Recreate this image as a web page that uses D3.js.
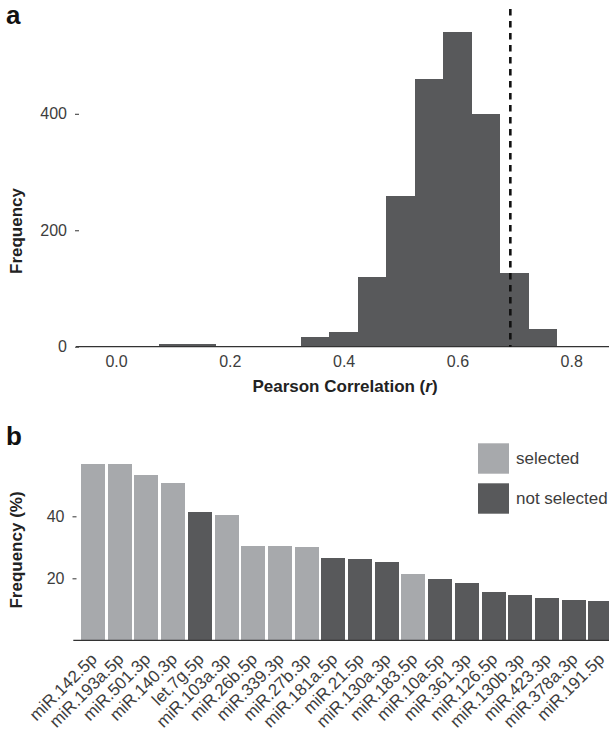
<!DOCTYPE html>
<html><head><meta charset="utf-8">
<script src="https://cdn.jsdelivr.net/npm/d3@7"></script>
<style>body{margin:0;background:#fff}svg{display:block;font-family:"Liberation Sans",Arial,sans-serif}</style>
</head><body><svg id="c" width="609" height="734"></svg>
<script>
// Panel a: histogram of Pearson correlations (binwidth 0.05)
const binStarts = [-0.025,0.025,0.075,0.125,0.175,0.225,0.275,0.325,0.375,0.425,0.475,0.525,0.575,0.625,0.675,0.725];
const binCounts = [1,1,5,5,0,2,0,17,25,120,259,460,540,400,127,30];
const binWidth = 0.05;
const cutoffR = 0.693;
const xTicksA = [0.0,0.2,0.4,0.6,0.8];
const yTicksA = [0,200,400];

// Panel b: frequency of miRNAs
const mirnas = ["miR.142.5p","miR.193a.5p","miR.501.3p","miR.140.3p","let.7g.5p","miR.103a.3p","miR.26b.5p","miR.339.3p","miR.27b.3p","miR.181a.5p","miR.21.5p","miR.130a.3p","miR.183.5p","miR.10a.5p","miR.361.3p","miR.126.5p","miR.130b.3p","miR.423.3p","miR.378a.3p","miR.191.5p"];
const freqPct = [56.9,56.9,53.3,50.7,41.4,40.4,30.4,30.4,30.1,26.6,26.2,25.3,21.4,19.8,18.5,15.6,14.6,13.6,13.0,12.7];
const status = ["selected","selected","selected","selected","not selected","selected","selected","selected","selected","not selected","not selected","not selected","selected","not selected","not selected","not selected","not selected","not selected","not selected","not selected"];
const legendKeys = ["selected","not selected"];
const yTicksB = [20,40];

const DARK = "#58595b", LIGHT = "#a7a9ac", TXT = "#3d3d3d";
const svg = d3.select("#c");

// ---------- Panel a ----------
const xA = d3.scaleLinear().domain([-0.0703, 0.8664]).range([76, 609]);
const yA = d3.scaleLinear().domain([0, 580]).range([346.7, 9]);
const gA = svg.append("g");
gA.selectAll("rect.h").data(binStarts).join("rect").attr("class","h")
  .attr("x", d => xA(d)).attr("width", d => xA(d+binWidth)-xA(d))
  .attr("y", (d,i) => yA(binCounts[i])).attr("height", (d,i) => yA(0)-yA(binCounts[i]))
  .attr("fill", DARK).attr("shape-rendering","crispEdges");
gA.append("line").attr("x1", 76).attr("x2", 609).attr("y1", yA(0)).attr("y2", yA(0))
  .attr("stroke", "#333").attr("stroke-width", 1.3);
gA.append("line").attr("x1", xA(cutoffR)).attr("x2", xA(cutoffR)).attr("y1", 9).attr("y2", yA(0))
  .attr("stroke", "#111").attr("stroke-width", 2.6).attr("stroke-dasharray", "6.5,5.5");
const axXA = d3.axisBottom(xA).tickValues(xTicksA).tickFormat(d3.format(".1f")).tickSize(0).tickPadding(9);
gA.append("g").attr("transform", `translate(0,${yA(0)})`).call(axXA)
  .call(g => g.select(".domain").remove())
  .selectAll("text").attr("font-size", 16).attr("fill", TXT).attr("font-family","Liberation Sans, Arial, sans-serif");
const axYA = d3.axisLeft(yA).tickValues(yTicksA).tickSize(4).tickPadding(8);
gA.append("g").attr("transform", "translate(79,0)").call(axYA)
  .call(g => g.select(".domain").remove())
  .call(g => g.selectAll("line").attr("stroke", "#444").attr("stroke-width", 1.1))
  .selectAll("text").attr("font-size", 16).attr("fill", TXT).attr("font-family","Liberation Sans, Arial, sans-serif");
svg.append("text").attr("x", 345).attr("y", 392).attr("text-anchor","middle")
  .attr("font-size", 17).attr("font-weight","bold").attr("fill","#222")
  .html('Pearson Correlation (<tspan font-style="italic">r</tspan>)');
svg.append("text").attr("transform","translate(22,231) rotate(-90)").attr("text-anchor","middle")
  .attr("font-size", 17).attr("font-weight","bold").attr("fill","#222").text("Frequency");
svg.append("text").attr("x", 6).attr("y", 24).attr("font-size", 26).attr("font-weight","bold").attr("fill","#111").text("a");

// ---------- Panel b ----------
const xB = d3.scaleBand().domain(mirnas).range([79.7, 613.7]).paddingInner(0.1).paddingOuter(0.05);
const yB = d3.scaleLinear().domain([0, 60]).range([640.3, 454.3]);
const color = d3.scaleOrdinal().domain(legendKeys).range([LIGHT, DARK]);
const gB = svg.append("g");
gB.selectAll("rect.b").data(mirnas).join("rect").attr("class","b")
  .attr("x", d => xB(d)).attr("width", xB.bandwidth())
  .attr("y", (d,i) => yB(freqPct[i])).attr("height", (d,i) => yB(0)-yB(freqPct[i]))
  .attr("fill", (d,i) => color(status[i])).attr("shape-rendering","crispEdges");
gB.append("line").attr("x1", 73.3).attr("x2", 609).attr("y1", yB(0)).attr("y2", yB(0))
  .attr("stroke", "#333").attr("stroke-width", 1.3);
const axYB = d3.axisLeft(yB).tickValues(yTicksB).tickSize(4).tickPadding(8);
gB.append("g").attr("transform", "translate(76.5,0)").call(axYB)
  .call(g => g.select(".domain").remove())
  .call(g => g.selectAll("line").attr("stroke", "#444").attr("stroke-width", 1.1))
  .selectAll("text").attr("font-size", 16).attr("fill", TXT).attr("font-family","Liberation Sans, Arial, sans-serif");
const axXB = d3.axisBottom(xB).tickSize(0).tickPadding(0);
gB.append("g").attr("transform", `translate(0,${yB(0)})`).call(axXB)
  .call(g => g.select(".domain").remove())
  .selectAll("text").attr("font-size", 17).attr("fill", TXT).attr("font-family","Liberation Sans, Arial, sans-serif")
  .attr("text-anchor","end").attr("dy", null).attr("y", 0)
  .attr("transform", "translate(5,20) rotate(-45)");
svg.append("text").attr("transform","translate(22,550) rotate(-90)").attr("text-anchor","middle")
  .attr("font-size", 17).attr("font-weight","bold").attr("fill","#222").text("Frequency (%)");
svg.append("text").attr("x", 6).attr("y", 445).attr("font-size", 26).attr("font-weight","bold").attr("fill","#111").text("b");

// Legend
const lg = svg.append("g");
legendKeys.forEach((k, i) => {
  lg.append("rect").attr("x", 478).attr("y", 443.3 + i*40).attr("width", 31).attr("height", 30.4).attr("fill", color(k));
  lg.append("text").attr("x", 516).attr("y", 458.5 + i*40).attr("dy","0.35em").attr("font-size", 17).attr("fill", TXT).text(k);
});
</script></body></html>
